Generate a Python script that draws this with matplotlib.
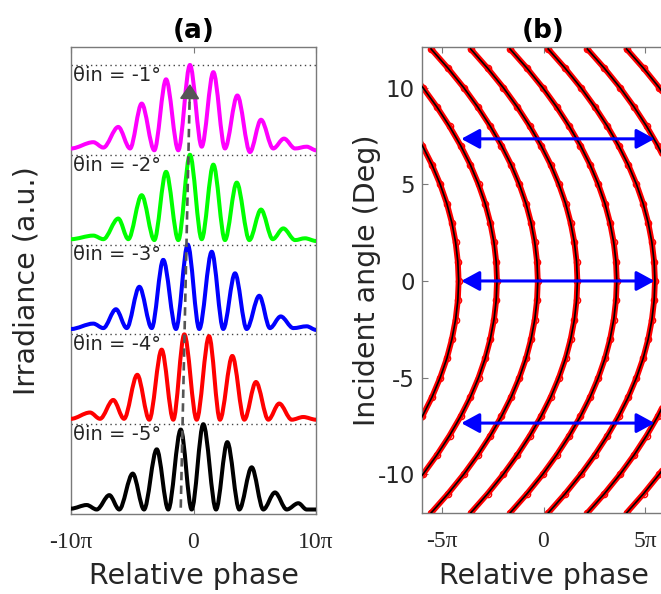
import matplotlib

matplotlib.use("Agg")
import matplotlib.pyplot as plt
import numpy as np
from matplotlib.patches import PathPatch
from matplotlib.path import Path

plt.rcParams["font.family"] = "DejaVu Sans"
plt.rcParams["axes.unicode_minus"] = False

# ---- panel (a): fringe profiles, extrema (phase in units of pi)
trace_angles = [-5, -4, -3, -2, -1]
trace_colors = ["#000000", "#ff0000", "#0000ff", "#00ff00", "#ff00ff"]

phase_m5 = [-10, -8.72, -7.9, -6.87, -6.06, -4.96, -4.04, -3.0, -2.06, -1.04, -0.15,
            0.8, 1.84, 2.76, 3.74, 4.75, 5.7, 6.65, 7.61, 8.56, 9.24, 10]
irr_m5 = [0.06, 0.1, 0.05, 0.21, 0.05, 0.45, 0.05, 0.72, 0.05, 0.94, 0.05,
          1.0, 0.05, 0.8, 0.05, 0.52, 0.05, 0.24, 0.05, 0.12, 0.05, 0.05]

phase_m4 = [-10, -8.45, -7.63, -6.55, -5.67, -4.59, -3.61, -2.6, -1.65, -0.75, 0.26,
            1.27, 2.16, 3.17, 4.15, 5.1, 6.11, 7.0, 8.02, 8.96, 10]
irr_m4 = [0.06, 0.13, 0.06, 0.27, 0.06, 0.55, 0.05, 0.83, 0.05, 1.0, 0.05,
          0.98, 0.05, 0.76, 0.05, 0.47, 0.05, 0.23, 0.05, 0.08, 0.05]

phase_m3 = [-10, -8.18, -7.36, -6.33, -5.45, -4.42, -3.41, -2.47, -1.43, -0.47, 0.47,
            1.49, 2.43, 3.39, 4.34, 5.37, 6.24, 7.12, 8.15, 9.24, 10]
irr_m3 = [0.06, 0.12, 0.07, 0.28, 0.07, 0.53, 0.07, 0.83, 0.06, 1.0, 0.06,
          0.92, 0.06, 0.68, 0.06, 0.43, 0.07, 0.2, 0.07, 0.09, 0.05]

phase_m2 = [-10, -8.18, -7.36, -6.14, -5.32, -4.23, -3.2, -2.24, -1.24, -0.29, 0.67,
            1.62, 2.57, 3.53, 4.56, 5.51, 6.47, 7.33, 8.29, 9.1, 10]
irr_m2 = [0.06, 0.1, 0.06, 0.29, 0.06, 0.55, 0.05, 0.81, 0.05, 1.0, 0.06,
          0.89, 0.05, 0.69, 0.05, 0.39, 0.06, 0.18, 0.05, 0.07, 0.04]

phase_m1 = [-10, -8.18, -7.36, -6.14, -5.18, -4.23, -3.2, -2.24, -1.24, -0.29, 0.67,
            1.62, 2.57, 3.58, 4.61, 5.51, 6.51, 7.39, 8.29, 9.24, 10]
irr_m1 = [0.07, 0.14, 0.08, 0.31, 0.07, 0.57, 0.05, 0.84, 0.05, 1.0, 0.09,
          0.92, 0.07, 0.66, 0.03, 0.39, 0.07, 0.18, 0.07, 0.09, 0.05]

trace_phase = [phase_m5, phase_m4, phase_m3, phase_m2, phase_m1]
trace_irr = [irr_m5, irr_m4, irr_m3, irr_m2, irr_m1]

# central-peak drift arrow (from -5 deg peak to -1 deg peak)
drift_x = [-1.04, -0.29]
drift_y = [0.07, 4.79]

# ---- panel (b): fringe positions vs incident angle
theta_deg = [-12, -11, -10, -9, -8, -7, -6, -5, -4, -3, -2, -1, 0,
             1, 2, 3, 4, 5, 6, 7, 8, 9, 10, 11, 12]
shift_pi = [-5.26, -4.42, -3.65, -2.96, -2.34, -1.79, -1.31, -0.91, -0.58, -0.33, -0.15, -0.04, 0,
            -0.04, -0.15, -0.33, -0.58, -0.91, -1.31, -1.79, -2.34, -2.96, -3.65, -4.42, -5.26]
vertex_pi = [-4.18, -2.29, -0.28, 1.67, 3.61, 5.49, 7.42, 9.35]

arrow_theta = [7.35, 0, -7.35]
arrow_span = [-4.05, 5.47]

SPINE = "#7a7a7a"
TEXT = "#262626"


def fringe_path(xs, ys, offset):
    # cubic segments with flat tangents at each extremum
    verts = [(xs[0], ys[0] + offset)]
    codes = [Path.MOVETO]
    for x0, y0, x1, y1 in zip(xs[:-1], ys[:-1], xs[1:], ys[1:]):
        d = (x1 - x0) / 3
        verts += [(x0 + d, y0 + offset), (x1 - d, y1 + offset), (x1, y1 + offset)]
        codes += [Path.CURVE4] * 3
    return Path(verts, codes)


def style_axes(ax):
    for sp in ax.spines.values():
        sp.set_color(SPINE)
        sp.set_linewidth(1.0)
    ax.tick_params(direction="in", length=4, color=SPINE, top=True)


fig = plt.figure(figsize=(6.61, 5.94), dpi=100)
W, H = 661, 594

# ---------------- (a)
ax = fig.add_axes([71 / W, 1 - 514 / H, 245 / W, 467 / H])
style_axes(ax)
for k, (ph, irr, col, ang) in enumerate(zip(trace_phase, trace_irr, trace_colors, trace_angles)):
    ax.add_patch(PathPatch(fringe_path(ph, irr, k), fill=False, edgecolor=col,
                           lw=2.9, capstyle="round", joinstyle="round", zorder=3))
    ax.axhline(k + 1, color="#444444", lw=1.0, ls=(0, (1, 2.5)), zorder=2)
    ax.text(-9.85, k + 0.99, f"θin = {ang}°", ha="left", va="top",
            fontsize=14, color=TEXT, zorder=5)

t = 1 - 0.2 / (drift_y[1] - drift_y[0])
xb = drift_x[0] + t * (drift_x[1] - drift_x[0])
yb = drift_y[0] + t * (drift_y[1] - drift_y[0])
ax.plot([drift_x[0], xb], [drift_y[0], yb], color="#555555", lw=1.9,
        dashes=(3.2, 2), zorder=4)
ax.annotate("", xy=(drift_x[1], drift_y[1]), xytext=(xb, yb),
            arrowprops=dict(arrowstyle="-|>,head_length=0.45,head_width=0.3",
                            color="#555555", lw=1.5, mutation_scale=20,
                            shrinkA=0, shrinkB=0), zorder=4)

ax.set_xlim(-10, 10)
ax.set_ylim(0, 5.2)
ax.set_yticks([])
ax.set_xticks([-10, 0, 10])
ax.set_xticklabels(["-10π", "0", "10π"], family="Liberation Serif", fontsize=17, color=TEXT)
ax.tick_params(axis="x", pad=13)
ax.set_xlabel("Relative phase", fontsize=20.5, color=TEXT, va="center")
ax.xaxis.set_label_coords(0.5, -0.133)
ax.set_ylabel("Irradiance (a.u.)", fontsize=20.5, color=TEXT, va="center")
ax.yaxis.set_label_coords(-0.18, 0.5)
ax.text(0.5, 1.035, "(a)", transform=ax.transAxes, ha="center", va="center",
        fontsize=19, fontweight="bold", color="black")

# ---------------- (b)
bx = fig.add_axes([421.7 / W, 1 - 513 / H, 243.6 / W, 466 / H])
style_axes(bx)
bx.spines["right"].set_visible(False)
theta = np.array(theta_deg, dtype=float)
shift = np.array(shift_pi)
for v in vertex_pi:
    xs = v + shift
    bx.plot(xs, theta, color="#ff0000", lw=4.2, solid_capstyle="round", zorder=2)
    bx.plot(xs, theta, ls="none", marker="o", ms=4.5, mfc="none", mec="#ff0000",
            mew=1.0, zorder=2)
    bx.plot(xs, theta, color="black", lw=1.2, zorder=3)

for th in arrow_theta:
    bx.annotate("", xy=(arrow_span[1], th), xytext=(arrow_span[0], th),
                arrowprops=dict(arrowstyle="<|-|>,head_length=0.55,head_width=0.3",
                                color="#0000ff", lw=2.2, mutation_scale=20,
                                shrinkA=0, shrinkB=0), zorder=4)

bx.set_xlim(-6, 6)
bx.set_ylim(-12, 12.1)
bx.set_xticks([-5, 0, 5])
bx.set_xticklabels(["-5π", "0", "5π"], family="Liberation Serif", fontsize=17, color=TEXT)
bx.tick_params(axis="x", pad=13)
bx.set_yticks([-10, -5, 0, 5, 10])
bx.set_yticklabels(["-10", "-5", "0", "5", "10"], fontsize=16.5, color=TEXT)
bx.tick_params(axis="y", pad=5)
bx.set_xlabel("Relative phase", fontsize=20.5, color=TEXT, va="center")
bx.xaxis.set_label_coords(0.5, -0.135)
bx.set_ylabel("Incident angle (Deg)", fontsize=20.5, color=TEXT, va="center")
bx.yaxis.set_label_coords(-0.225, 0.5)
bx.text(0.5, 1.035, "(b)", transform=bx.transAxes, ha="center", va="center",
        fontsize=19, fontweight="bold", color="black")

fig.savefig("out.png", dpi=100)
